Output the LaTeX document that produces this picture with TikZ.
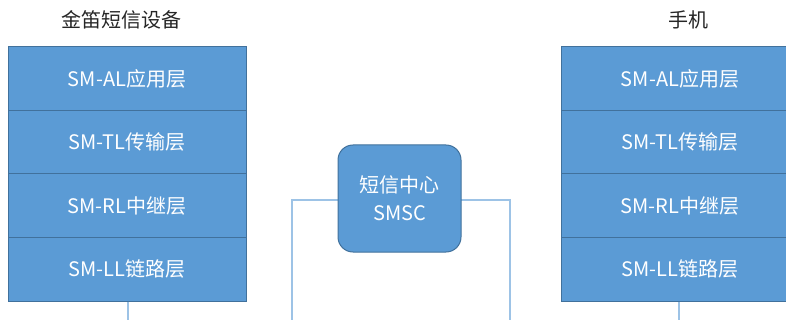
\documentclass[tikz,border=0pt]{standalone}
\usepackage{fontspec}
\setmainfont{Noto Sans CJK SC}
\definecolor{fillblue}{HTML}{5B9BD5}
\definecolor{edgeblue}{HTML}{41719C}
\definecolor{lineblue}{HTML}{9DC3E6}
\definecolor{titlegray}{HTML}{262626}
\begin{document}
\begin{tikzpicture}[x=1pt,y=-1pt,
  layerbox/.style={draw=edgeblue,line width=1pt,fill=fillblue,text=white,minimum width=238pt,minimum height=63.5pt,inner sep=0pt,font=\fontsize{20}{22}\selectfont},
  centerbox/.style={draw=edgeblue,line width=1pt,fill=fillblue,text=white,rounded corners=15pt,minimum width=123pt,minimum height=107pt,inner sep=0pt,align=center,font=\fontsize{20}{28}\selectfont},
  titletext/.style={text=titlegray,font=\fontsize{20}{22}\selectfont,inner sep=0pt},
  link/.style={draw=lineblue,line width=1.5pt}]
\useasboundingbox (0,0) rectangle (786,320);
\clip (0,0) rectangle (786,320);
% left stack
\node[titletext] (ltitle) at (121,20) {金笛短信设备};
\node[layerbox] (la) at (127,78.75) {SM-AL应用层};
\node[layerbox] (lt) at (127,142.25) {SM-TL传输层};
\node[layerbox] (lr) at (127,205.75) {SM-RL中继层};
\node[layerbox] (ll) at (127,269.25) {SM-LL链路层};
% right stack
\node[titletext] (rtitle) at (688,20) {手机};
\node[layerbox] (ra) at (680,78.75) {SM-AL应用层};
\node[layerbox] (rt) at (680,142.25) {SM-TL传输层};
\node[layerbox] (rr) at (680,205.75) {SM-RL中继层};
\node[layerbox] (rl) at (680,269.25) {SM-LL链路层};
% connector ends
\coordinate (lend) at (128,322);
\coordinate (rend) at (679,322);
\coordinate (cl) at (292,322);
\coordinate (cr) at (510,322);
\draw[link] (ll.south -| lend) -- (lend);
\draw[link] (rl.south -| rend) -- (rend);
% center box connectors
\coordinate (cly) at (292,200);
\coordinate (cry) at (510,200);
\draw[link] (cl) -- (cly) -- (338,200);
\draw[link] (cr) -- (cry) -- (461,200);
\node[centerbox] (smsc) at (399.5,198.5) {短信中心\\SMSC};
\end{tikzpicture}
\end{document}
